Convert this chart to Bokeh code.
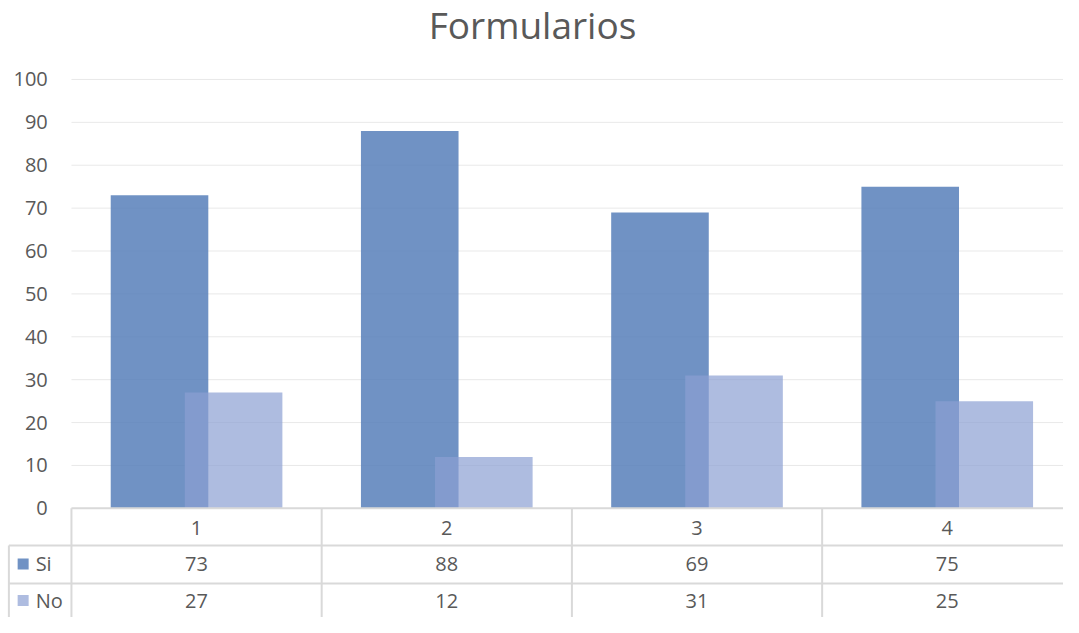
from bokeh.plotting import figure
from bokeh.models import Range1d
from bokeh.core.properties import value
from bokeh.embed import file_html
from bokeh.resources import INLINE

title = "Formularios"
categories = ["1", "2", "3", "4"]
si = [73, 88, 69, 75]
no = [27, 12, 31, 25]
series_names = ["Si", "No"]
y_ticks = [0, 10, 20, 30, 40, 50, 60, 70, 80, 90, 100]

SI_COLOR = "#577fba"
NO_COLOR = "#8b9fd3"
TXT = "#595959"
FONT = "Open Sans"
LINE = "#d9d9d9"

W, H = 1063, 617
x0, x1 = 0.2165, 4.4646
y0, y1 = -25.45, 118.41

p = figure(width=W, height=H, x_range=Range1d(x0, x1), y_range=Range1d(y0, y1),
           output_backend="svg", toolbar_location=None, min_border=0,
           outline_line_color=None)
p.axis.visible = False
p.grid.visible = False
p.background_fill_color = "white"

xs = [i + 1 for i in range(len(categories))]
off = 0.148
bw = 0.39

# gridlines
gy = [t for t in y_ticks if t > 0]
p.segment(x0=[0.5] * len(gy), x1=[x1] * len(gy), y0=gy, y1=gy,
          line_color="#e9e9e9", line_width=1)

# bars
p.vbar(x=[x - off for x in xs], top=si, width=bw, bottom=0,
       fill_color=SI_COLOR, fill_alpha=0.85, line_color=None)
p.vbar(x=[x + off for x in xs], top=no, width=bw, bottom=0,
       fill_color=NO_COLOR, fill_alpha=0.7, line_color=None)

# y tick labels
p.text(x=[0.4055] * len(y_ticks), y=y_ticks, text=[str(t) for t in y_ticks],
       text_font=value(FONT), text_font_size="20px", text_color=TXT,
       text_align="right", text_baseline="middle")

# data table lines
row_h = -8.64
row_n = -17.5
p.segment(x0=[0.5, 0.25, 0.25], x1=[x1, x1, x1], y0=[0, row_h, row_n], y1=[0, row_h, row_n],
          line_color=LINE, line_width=2)
vx = [0.5, 1.5, 2.5, 3.5]
p.segment(x0=vx, x1=vx, y0=[0] * 4, y1=[y0] * 4, line_color=LINE, line_width=2)
p.segment(x0=[0.25], x1=[0.25], y0=[row_h], y1=[y0], line_color=LINE, line_width=2)

# header and values
ty_head, ty_si, ty_no = -4.55, -12.95, -21.5
p.text(x=xs, y=[ty_head] * 4, text=categories, text_font=value(FONT), text_font_size="20px",
       text_color=TXT, text_align="center", text_baseline="middle")
p.text(x=xs, y=[ty_si] * 4, text=[str(v) for v in si], text_font=value(FONT), text_font_size="20px",
       text_color=TXT, text_align="center", text_baseline="middle")
p.text(x=xs, y=[ty_no] * 4, text=[str(v) for v in no], text_font=value(FONT), text_font_size="20px",
       text_color=TXT, text_align="center", text_baseline="middle")

# legend keys in table
p.scatter(x=[0.307, 0.307], y=[ty_si, ty_no], marker="square", size=11,
          fill_color=[SI_COLOR, NO_COLOR], fill_alpha=[0.85, 0.7], line_color=None)
p.text(x=[0.357, 0.357], y=[ty_si, ty_no], text=series_names, text_font=value(FONT),
       text_font_size="20px", text_color=TXT, text_align="left", text_baseline="middle")

# title
p.text(x=[2.3425], y=[112.9], text=[title], text_font=value(FONT), text_font_size="37px",
       text_color=TXT, text_align="center", text_baseline="middle")

open("out.html", "w").write(file_html(p, INLINE))
